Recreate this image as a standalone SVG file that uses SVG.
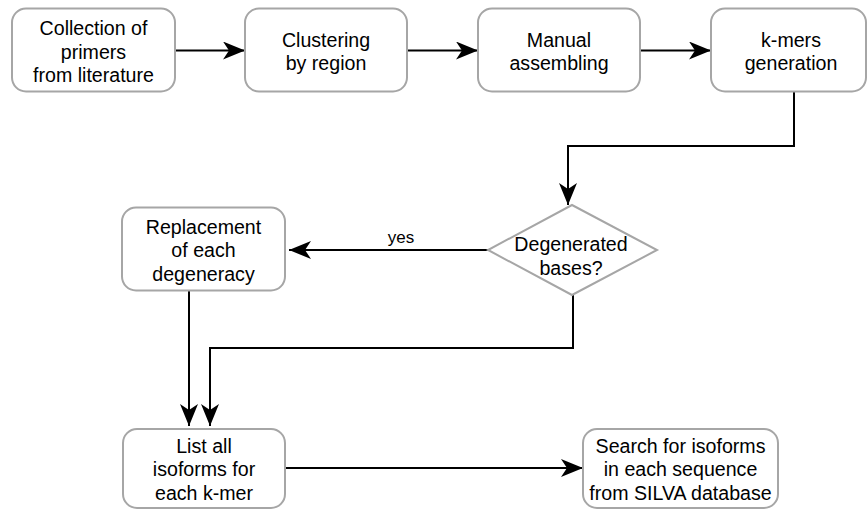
<svg xmlns="http://www.w3.org/2000/svg" width="868" height="510" viewBox="0 0 868 510">
<style>
.box{fill:#fff;stroke:#a6a6a6;stroke-width:2}
.t{font-family:"Liberation Sans",Arial,sans-serif;font-size:19.6px;fill:#000;text-anchor:middle}
.lbl{font-family:"Liberation Sans",Arial,sans-serif;font-size:17px;fill:#000;text-anchor:middle}
.c{fill:none;stroke:#000;stroke-width:2}
</style>
<defs>
<marker id="arr" markerUnits="userSpaceOnUse" markerWidth="22" markerHeight="18" refX="22" refY="9" orient="auto">
<path d="M0,0 L22,9 L0,18 L6,9 Z" fill="#000"/>
</marker>
</defs>
<rect width="868" height="510" fill="#fff"/>
<g id="connectors">
<path class="c" d="M175,50.5 H245" marker-end="url(#arr)"/>
<path class="c" d="M407,50.5 H478" marker-end="url(#arr)"/>
<path class="c" d="M640,50.5 H711" marker-end="url(#arr)"/>
<path class="c" d="M794,92 V146 H568 V205" marker-end="url(#arr)"/>
<path class="c" d="M488,250 H289" marker-end="url(#arr)"/>
<text class="lbl" x="401" y="243">yes</text>
<path class="c" d="M189,291 V426" marker-end="url(#arr)"/>
<path class="c" d="M573,295 V348 H210 V426" marker-end="url(#arr)"/>
<path class="c" d="M285,468 H583" marker-end="url(#arr)"/>
</g>
<g id="n1">
<rect class="box" x="12" y="8.5" width="163" height="83" rx="14"/>
<text class="t" x="93.5" y="35">Collection of</text>
<text class="t" x="93.5" y="58.5">primers</text>
<text class="t" x="93.5" y="82">from literature</text>
</g>
<g id="n2">
<rect class="box" x="245" y="8.5" width="162" height="83" rx="14"/>
<text class="t" x="326" y="46.5">Clustering</text>
<text class="t" x="326" y="70">by region</text>
</g>
<g id="n3">
<rect class="box" x="478" y="8.5" width="162" height="83" rx="14"/>
<text class="t" x="559" y="46.5">Manual</text>
<text class="t" x="559" y="70">assembling</text>
</g>
<g id="n4">
<rect class="box" x="711" y="8.5" width="155" height="83" rx="14"/>
<text class="t" x="791" y="46.5">k-mers</text>
<text class="t" x="791" y="70">generation</text>
</g>
<g id="n5">
<polygon class="box" points="572,205 657,250 572,295 488,250"/>
<text class="t" x="571" y="251">Degenerated</text>
<text class="t" x="571" y="274.5">bases?</text>
</g>
<g id="n6">
<rect class="box" x="122" y="207.5" width="163" height="83" rx="14"/>
<text class="t" x="203.5" y="233.5">Replacement</text>
<text class="t" x="203.5" y="257">of each</text>
<text class="t" x="203.5" y="280.5">degeneracy</text>
</g>
<g id="n7">
<rect class="box" x="123" y="429" width="162" height="79" rx="14"/>
<text class="t" x="204" y="452.5">List all</text>
<text class="t" x="204" y="476">isoforms for</text>
<text class="t" x="204" y="499.5">each k-mer</text>
</g>
<g id="n8">
<rect class="box" x="583" y="429" width="195" height="79" rx="14"/>
<text class="t" x="680.5" y="452.5">Search for isoforms</text>
<text class="t" x="680.5" y="476">in each sequence</text>
<text class="t" x="680.5" y="499.5">from SILVA database</text>
</g>
</svg>
